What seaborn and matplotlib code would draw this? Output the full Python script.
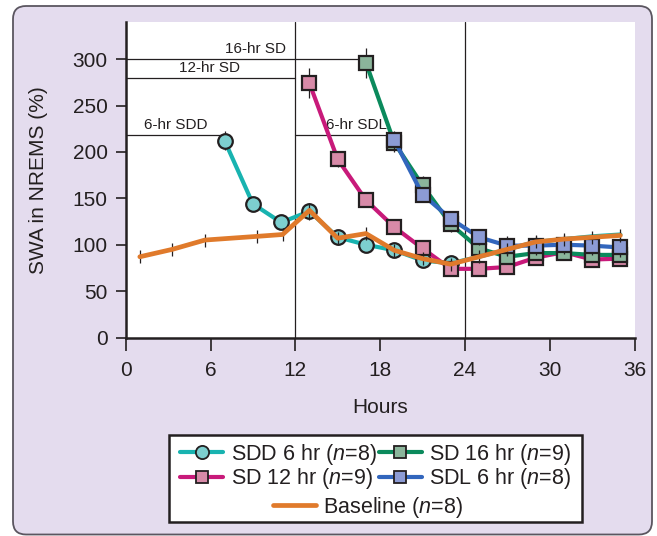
import numpy as np
import pandas as pd
import matplotlib
matplotlib.use("Agg")
import matplotlib.pyplot as plt
from matplotlib.lines import Line2D
from matplotlib.patches import FancyBboxPatch, Rectangle
import seaborn as sns

# ---- data -------------------------------------------------------------
sdd_hours = [7, 9, 11, 13, 15, 17, 19, 21, 23, 25, 27, 29, 31, 33, 35]
sdd_swa = [212, 144, 124, 136, 108, 100, 94, 83, 80, 87, 95, 103, 106, 109, 111]
sdd_err = [10, 6, 6, 9, 6, 6, 6, 6, 6, 6, 6, 6, 6, 6, 6]

sd12_hours = [13, 15, 17, 19, 21, 23, 25, 27, 29, 31, 33, 35]
sd12_swa = [274, 192, 148, 119, 96, 74, 74, 76, 86, 92, 84, 85]
sd12_err = [16, 8, 7, 8, 8, 6, 6, 6, 8, 8, 8, 8]

sd16_hours = [17, 19, 21, 23, 25, 27, 29, 31, 33, 35]
sd16_swa = [296, 210, 164, 122, 96, 87, 91, 91, 89, 89]
sd16_err = [16, 10, 10, 8, 8, 8, 8, 8, 8, 8]

sdl_hours = [19, 21, 23, 25, 27, 29, 31, 33, 35]
sdl_swa = [213, 154, 128, 108, 99, 99, 100, 99, 97]
sdl_err = [10, 8, 8, 8, 10, 10, 10, 10, 10]

base_hours = [1, 3.3, 5.6, 9.3, 11.1, 13, 15, 17, 19, 21, 23, 25, 27, 29, 31, 33, 35]
base_swa = [87, 95, 105, 109, 111, 137, 107, 112, 94, 85, 79, 87, 95, 103, 106, 108, 110]
base_err = [7, 7, 7, 7, 7, 8, 7, 7, 7, 7, 7, 7, 7, 7, 7, 7, 7]

x_ticks = [0, 6, 12, 18, 24, 30, 36]
y_ticks = [0, 50, 100, 150, 200, 250, 300]

# deprivation periods: (label, level, start, end, label x)
periods = [
    ("16-hr SD", 300, 0, 17, 9.15),
    ("12-hr SD", 280, 0, 12, 5.9),
    ("6-hr SDD", 218, 0, 7, 3.55),
    ("6-hr SDL", 218, 12, 19, 16.3),
]

# ---- style ------------------------------------------------------------
sns.set_style("ticks")
plt.rcParams["font.family"] = ["Liberation Sans", "DejaVu Sans"]
plt.rcParams["mathtext.fontset"] = "custom"
plt.rcParams["mathtext.it"] = "Liberation Sans:italic"
plt.rcParams["mathtext.rm"] = "Liberation Sans"

INK = "#231f20"
LAV = "#e4dcee"
FS = 15

W, H = 657, 536
fig = plt.figure(figsize=(W / 100, H / 100), dpi=100)
fig.patch.set_facecolor("white")

# rounded panel behind everything
panel = FancyBboxPatch((13 / 100, 1.5 / 100), (652 - 13) / 100, (530 - 1.5) / 100,
                       boxstyle="round,pad=0,rounding_size=0.13",
                       transform=fig.dpi_scale_trans, facecolor=LAV,
                       edgecolor="#5b5660", linewidth=1.3, zorder=-10)
fig.patches.append(panel)

ax = fig.add_axes([125.7 / W, 1 - 337.5 / H, (634.5 - 125.7) / W, (337.5 - 22) / H])
ax.set_facecolor("white")
ax.set_xlim(0, 36)
ax.set_ylim(0, 340)

# reference lines
for xv in (12, 24):
    ax.axvline(xv, color=INK, lw=0.9, zorder=1)
for label, level, x0, x1, lx in periods:
    ax.plot([x0, x1], [level, level], color=INK, lw=0.9, zorder=1)
    ax.text(lx, level + 3, label, ha="center", va="bottom", fontsize=11,
            color=INK, zorder=2)

# (label, hours, values, errors, line colour, face colour, marker, zorder, marked points)
series = [
    ("SDD 6 hr ($n$=8)", sdd_hours, sdd_swa, sdd_err, "#18b3b0", "#7dcfcf", "o", 3, 9),
    ("SD 12 hr ($n$=9)", sd12_hours, sd12_swa, sd12_err, "#c81a7a", "#d88aa8", "s", 4, None),
    ("SD 16 hr ($n$=9)", sd16_hours, sd16_swa, sd16_err, "#0b8a5c", "#8bb59b", "s", 5, None),
    ("SDL 6 hr ($n$=8)", sdl_hours, sdl_swa, sdl_err, "#3266bd", "#8c9bd4", "s", 6, None),
]

handles = []
for label, hrs, vals, err, lc, fc, mk, z, nmark in series:
    df = pd.DataFrame({"Hours": hrs, "SWA": vals})
    every = list(range(nmark)) if nmark else None
    ax.errorbar(hrs[:nmark], vals[:nmark], yerr=err[:nmark], fmt="none",
                ecolor=INK, elinewidth=0.9, capsize=0, zorder=z)
    sns.lineplot(data=df, x="Hours", y="SWA", ax=ax, color=lc, lw=3.0,
                 marker=mk, markevery=every,
                 markersize=10 if mk == "s" else 10.5,
                 markerfacecolor=fc, markeredgecolor=INK, markeredgewidth=1.6,
                 zorder=z + 0.5, legend=False)
    handles.append(Line2D([], [], color=lc, lw=3.0, marker=mk,
                          markersize=9 if mk == "s" else 9.5,
                          markerfacecolor=fc, markeredgecolor=INK,
                          markeredgewidth=1.3, label=label))

base_df = pd.DataFrame({"Hours": base_hours, "SWA": base_swa})
ax.errorbar(base_hours, base_swa, yerr=base_err, fmt="none", ecolor=INK,
            elinewidth=0.9, capsize=0, zorder=7.5)
sns.lineplot(data=base_df, x="Hours", y="SWA", ax=ax, color="#e07a2b", lw=3.4,
             zorder=8, legend=False)
base_handle = Line2D([], [], color="#e07a2b", lw=3.4, label="Baseline ($n$=8)")

# axes styling
sns.despine(ax=ax)
for side in ("left", "bottom"):
    ax.spines[side].set_color(INK)
    ax.spines[side].set_linewidth(1.8)
ax.set_xticks(x_ticks)
ax.set_yticks(y_ticks)
ax.tick_params(axis="x", direction="out", length=9, width=1.2, pad=8,
               labelsize=FS, colors=INK)
ax.tick_params(axis="y", direction="out", length=7, width=1.2, pad=6,
               labelsize=FS, colors=INK)
ax.set_xlabel("Hours", fontsize=FS, color=INK, labelpad=13)
ax.set_ylabel("SWA in NREMS (%)", fontsize=FS, color=INK, labelpad=18)

# legend box with two blocks inside
box = Rectangle((169 / W, 1 - 522 / H), (582 - 169) / W, (522 - 435) / H,
                transform=fig.transFigure, facecolor="white", edgecolor=INK,
                linewidth=1.8, zorder=2)
fig.patches.append(box)

leg1 = fig.legend(handles=handles, ncol=2, frameon=False, fontsize=15.5,
                  loc="upper left", bbox_to_anchor=(180 / W, 1 - 442 / H),
                  handlelength=2.0, handletextpad=0.35, columnspacing=0.1,
                  labelspacing=-0.04, borderpad=0, borderaxespad=0)
leg1.set_zorder(3)
leg2 = fig.legend(handles=[base_handle], frameon=False, fontsize=15.5,
                  loc="upper center", bbox_to_anchor=(368 / W, 1 - 495 / H),
                  handlelength=2.0, handletextpad=0.35, borderpad=0,
                  borderaxespad=0)
leg2.set_zorder(3)
for lg in (leg1, leg2):
    for t in lg.get_texts():
        t.set_color(INK)

fig.savefig("out.png", dpi=100, facecolor="white")
